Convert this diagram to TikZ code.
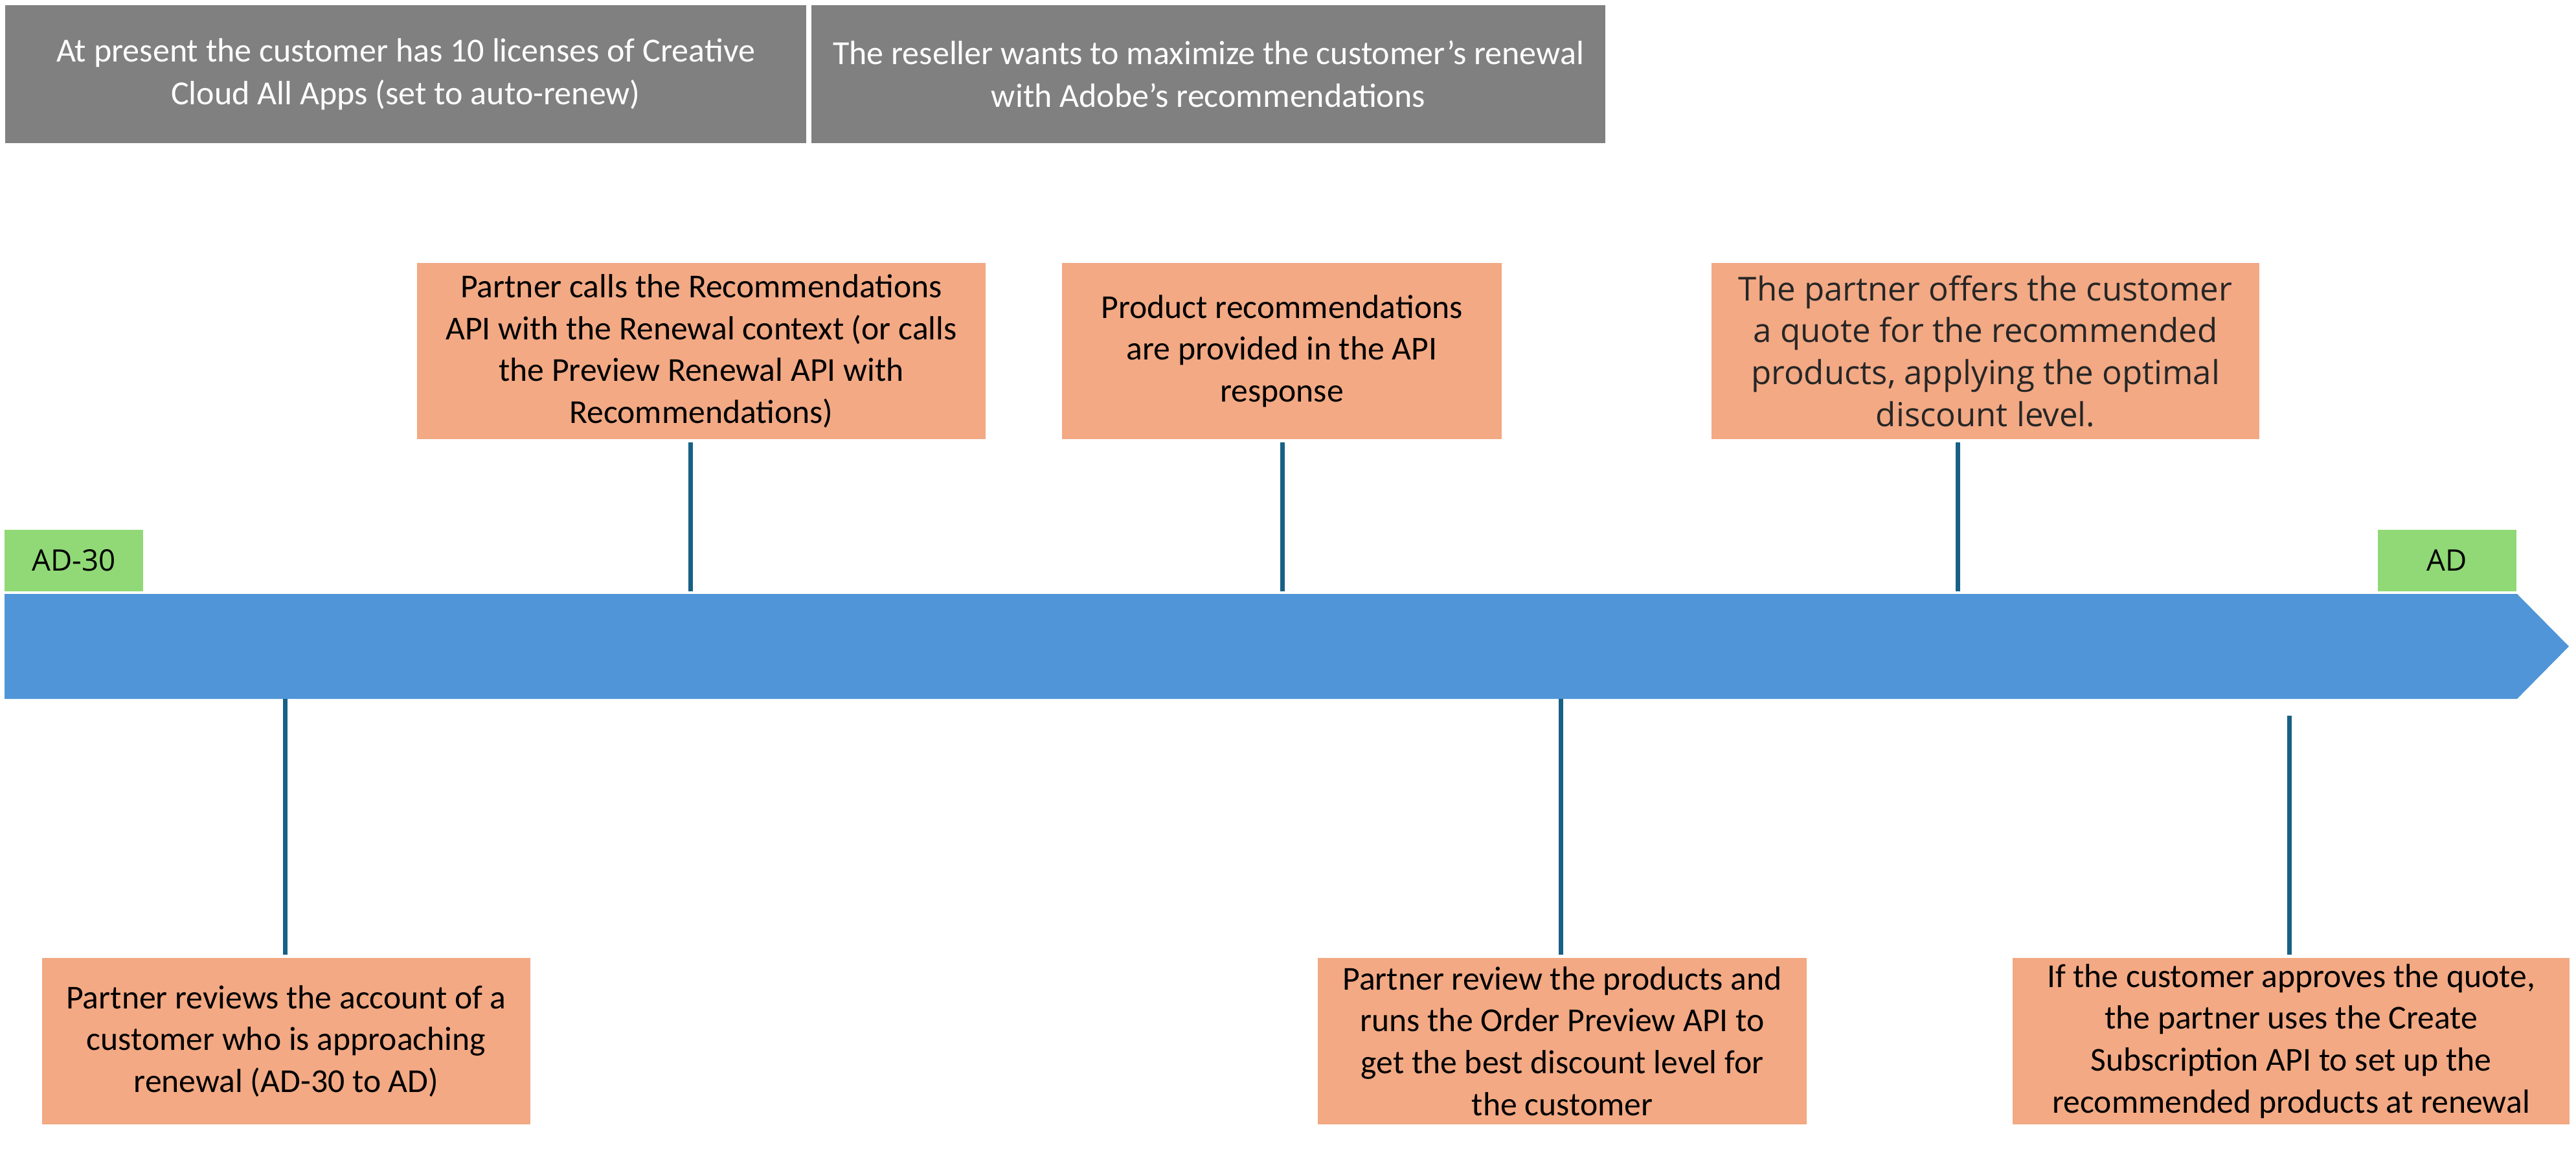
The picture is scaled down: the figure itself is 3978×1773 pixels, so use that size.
\documentclass[tikz,border=0pt]{standalone}
\usepackage{fontspec}
\setmainfont{Carlito}
\newfontfamily\segoe{Open Sans}
\definecolor{slate}{RGB}{128,128,128}
\definecolor{peach}{RGB}{242,169,132}
\definecolor{lime}{RGB}{144,217,118}
\definecolor{lane}{RGB}{79,149,216}
\definecolor{stemblue}{RGB}{24,97,133}
\tikzset{
	banner/.style={fill=slate,text=white,align=center,inner sep=0pt,minimum height=21.3mm,font=\fontsize{14.8}{18.7}\selectfont},
	note/.style={fill=peach,align=center,inner sep=0pt,font=\fontsize{14.7}{18.4}\selectfont},
	mark box/.style={fill=lime,inner sep=0pt,minimum width=21.4mm,minimum height=9.5mm,font=\segoe\fontsize{13}{16}\selectfont},
	stem/.style={stemblue,line width=0.7mm}
}
\begin{document}
\begin{tikzpicture}[x=0.1mm,y=-0.1mm]
	\useasboundingbox (0,0) rectangle (3978,1773);
	\fill[lane] (7,917) -- (3887,917) -- (3967,998) -- (3887,1079) -- (7,1079) -- cycle;
	\node[banner,minimum width=123.7mm] (g1) at (626.5,114.5) {At present the customer has 10 licenses of Creative\\Cloud All Apps (set to auto-renew)};
	\node[banner,minimum width=122.6mm] (g2) at (1866,114.5) {The reseller wants to maximize the customer’s renewal\\with Adobe’s recommendations};
	\node[mark box] (ad30) at (114,865.5) {AD-30};
	\node[mark box] (ad) at (3779,865.5) {AD};
	\node[note,minimum width=87.8mm,minimum height=27.2mm] (t1) at (1083,542) {Partner calls the Recommendations\\API with the Renewal context (or calls\\the Preview Renewal API with\\Recommendations)};
	\node[note,minimum width=67.9mm,minimum height=27.2mm] (t2) at (1979.5,542) {Product recommendations\\are provided in the API\\response};
	\node[note,minimum width=84.6mm,minimum height=27.2mm,font=\segoe\fontsize{14.5}{18.4}\selectfont,text=black!85] (t3) at (3066,542) {The partner offers the customer\\a quote for the recommended\\products, applying the optimal\\discount level.};
	\node[note,minimum width=75.4mm,minimum height=25.7mm] (b1) at (442,1607.5) {Partner reviews the account of a\\customer who is approaching\\renewal (AD-30 to AD)};
	\node[note,minimum width=75.5mm,minimum height=25.7mm] (b2) at (2412.5,1607.5) {Partner review the products and\\runs the Order Preview API to\\get the best discount level for\\the customer};
	\node[note,minimum width=86mm,minimum height=25.7mm] (b3) at (3538,1607.5) {If the customer approves the quote,\\the partner uses the Create\\Subscription API to set up the\\recommended products at renewal};
	\coordinate (s1) at (1066,913);
	\coordinate (s2) at (1980,913);
	\coordinate (s3) at (3023,913);
	\coordinate (s4) at (440,1079);
	\coordinate (s5) at (2410,1079);
	\coordinate (s6) at (3535,1105);
	\draw[stem,shorten <=0.4mm] (s1 |- t1.south) -- (s1);
	\draw[stem,shorten <=0.4mm] (s2 |- t2.south) -- (s2);
	\draw[stem,shorten <=0.4mm] (s3 |- t3.south) -- (s3);
	\draw[stem,shorten >=0.4mm] (s4) -- (s4 |- b1.north);
	\draw[stem,shorten >=0.4mm] (s5) -- (s5 |- b2.north);
	\draw[stem,shorten >=0.4mm] (s6) -- (s6 |- b3.north);
\end{tikzpicture}
\end{document}
